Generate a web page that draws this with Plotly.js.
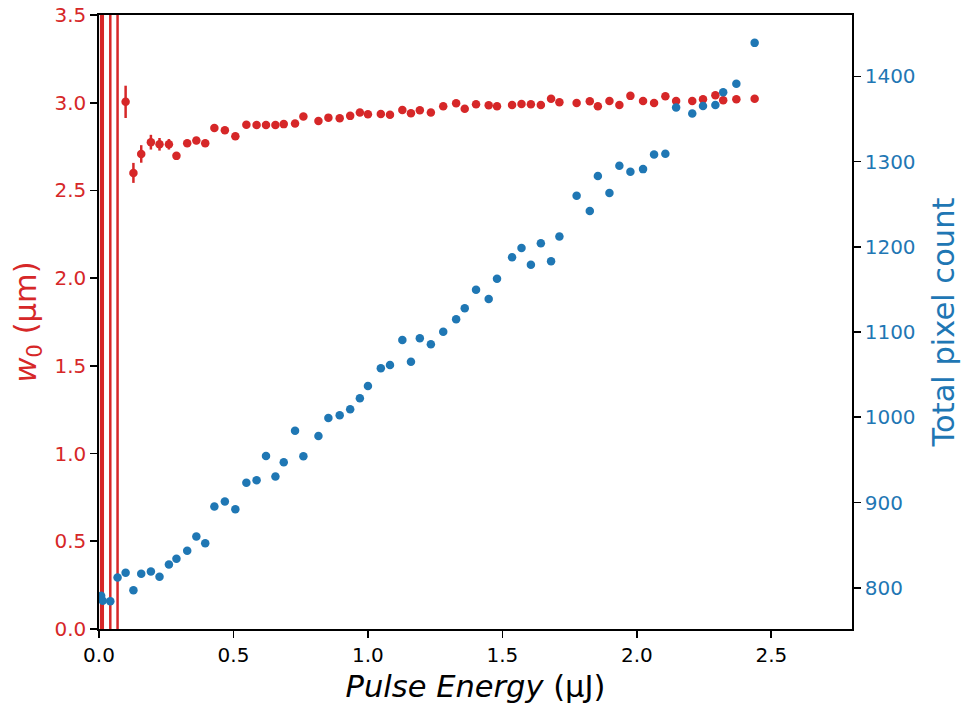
<!DOCTYPE html>
<html>
<head>
<meta charset="utf-8">
<script src="https://cdn.plot.ly/plotly-3.0.1.min.js"></script>
<style>html,body{margin:0;padding:0;background:#fff;}#chart{width:961px;height:707px;}</style>
</head>
<body>
<div id="chart"></div>
<script>
const pulseEnergy = [0.008,0.014,0.042,0.069, 0.099,0.128,0.157,0.193,0.225,0.260,
  0.288,0.328,0.362,0.395,0.429,0.468,0.507, 0.548,0.586,0.621,0.656,0.687,
  0.729,0.760,0.816,0.853,0.895,0.934,0.970,1.000,
  1.048,1.082,1.128,1.160,1.193,1.234,1.280,1.328,1.360,1.402,
  1.449,1.480,1.536,1.571,1.606,1.643,1.681,1.712,
  1.776,1.825,1.855,1.898,1.935,1.976,2.023,2.064,2.106,2.146,
  2.206,2.246,2.292,2.321,2.370,2.438];
const w0 = [4.5,4.5,4.5,4.5, 3.005,2.600,2.708,2.775,2.763,2.763,
  2.697,2.769,2.784,2.769,2.856,2.843,2.809, 2.875,2.873,2.873,2.873,2.878,
  2.881,2.921,2.896,2.915,2.912,2.925,2.944,2.934,
  2.936,2.932,2.959,2.940,2.957,2.944,2.980,2.997,2.966,2.991,
  2.986,2.980,2.987,2.993,2.991,2.987,3.022,3.003,
  2.998,3.009,2.980,3.010,2.987,3.039,3.010,2.999,3.037,3.010,
  3.010,3.020,3.043,3.014,3.020,3.022];
const w0Err = [6,6,6,6, 0.092,0.057,0.050,0.042,0.036,0.030,
  0.022,0.020,0.020,0.020,0.018,0.018,0.018, 0.016,0.016,0.016,0.016,0.016,
  0.015,0.015,0.015,0.015,0.015,0.015,0.015,0.015,
  0.015,0.015,0.015,0.015,0.015,0.015,0.015,0.015,0.015,0.015,
  0.015,0.015,0.015,0.015,0.015,0.015,0.015,0.015,
  0.015,0.015,0.015,0.015,0.015,0.015,0.015,0.015,0.015,0.015,
  0.015,0.015,0.015,0.015,0.015,0.015];
const pixelCount = [790.6,784.8,784.4,812.1, 817.6,797.1,816.4,819.1,812.9,827.3,
  834.0,843.4,860.1,852.4,895.3,901.2,892.3, 923.4,926.3,954.7,930.5,947.4,
  984.4,954.4,978.2,999.3,1002.5,1009.5,1022.4,1036.8,
  1057.6,1061.4,1090.7,1065.3,1092.7,1085.7,1100.5,1115.0,1127.9,1149.7,
  1138.8,1162.6,1187.7,1198.6,1179.0,1204.1,1183.0,1212.1,
  1259.9,1242.0,1283.0,1263.1,1295.1,1288.0,1291.2,1308.4,1309.1,1363.5,
  1356.5,1365.3,1366.5,1381.5,1391.4,1439.3];

const RED = '#d62728', BLUE = '#1f77b4';
const FONT = 'DejaVu Sans, sans-serif';

const traces = [
  {
    x: pulseEnergy, y: w0, type: 'scatter', mode: 'markers',
    marker: {color: RED, size: 8.5},
    error_y: {type: 'data', array: w0Err, visible: true, color: RED, thickness: 2.5, width: 0},
    yaxis: 'y', showlegend: false, hoverinfo: 'x+y'
  },
  {
    x: pulseEnergy, y: pixelCount, type: 'scatter', mode: 'markers',
    marker: {color: BLUE, size: 8.5},
    yaxis: 'y2', showlegend: false, hoverinfo: 'x+y'
  }
];

const layout = {
  width: 961, height: 707,
  margin: {l: 99, r: 109, t: 15, b: 78, pad: 0},
  paper_bgcolor: '#fff', plot_bgcolor: '#fff',
  font: {family: FONT, size: 20, color: '#000'},
  xaxis: {
    range: [0, 2.8], dtick: 0.5, tick0: 0, tickformat: '.1f',
    showgrid: false, zeroline: false,
    showline: true, linecolor: '#000', linewidth: 1.7, mirror: true,
    ticks: 'outside', ticklen: 7, tickwidth: 1.7, tickcolor: '#000',
    tickfont: {family: FONT, size: 20, color: '#000'},
    title: {text: '<i>Pulse Energy</i> (µJ)', font: {family: FONT, size: 30.5, color: '#000'}, standoff: 10}
  },
  yaxis: {
    range: [0, 3.5], dtick: 0.5, tick0: 0, tickformat: '.1f',
    showgrid: false, zeroline: false,
    showline: true, linecolor: '#000', linewidth: 1.7,
    ticks: 'outside', ticklen: 7, tickwidth: 1.7, tickcolor: '#000',
    tickfont: {family: FONT, size: 20, color: RED},
    title: {text: '<i>w</i><sub>0</sub> (µm)', font: {family: FONT, size: 30.5, color: RED}, standoff: 9}
  },
  yaxis2: {
    range: [751.7, 1472], dtick: 100, tick0: 0,
    overlaying: 'y', side: 'right',
    showgrid: false, zeroline: false,
    showline: true, linecolor: '#000', linewidth: 1.7,
    ticks: 'outside', ticklen: 7, tickwidth: 1.7, tickcolor: '#000',
    tickfont: {family: FONT, size: 20, color: BLUE},
    title: {text: 'Total pixel count', font: {family: FONT, size: 30.5, color: BLUE}, standoff: 19}
  }
};

Plotly.newPlot('chart', traces, layout, {displayModeBar: false, staticPlot: true});
</script>
</body>
</html>
